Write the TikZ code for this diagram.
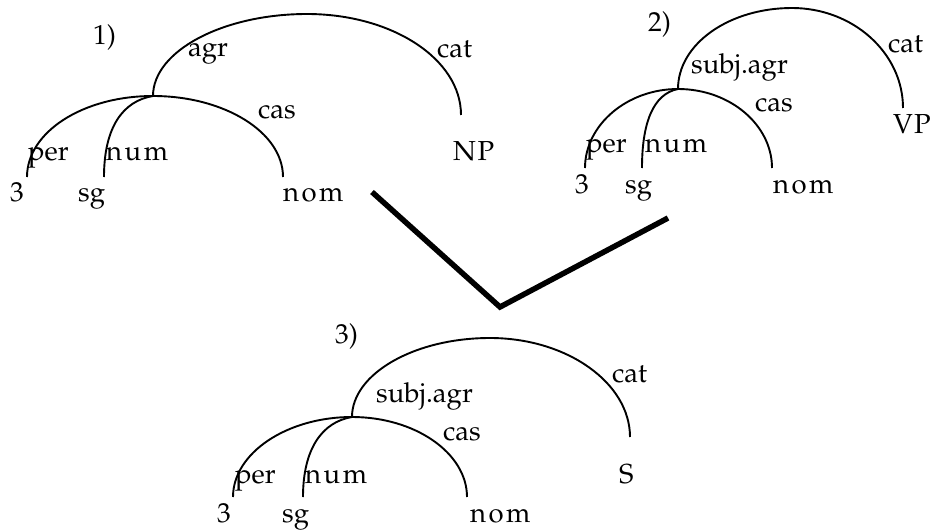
\documentclass[tikz,border=0pt]{standalone}
\usepackage[T1]{fontenc}
\usepackage{mathpazo}
\newcommand\lsp{\kern2.5pt}
\begin{document}
\begin{tikzpicture}[x=1pt,y=-1pt,
  lbl/.style={anchor=base west,inner sep=0pt,font=\fontsize{27.5}{30}\selectfont},
  arc/.style={line width=1.9pt},
  vline/.style={line width=5.5pt}]
\useasboundingbox (0,0) rectangle (931,532);
% ---------- 1) ----------
\coordinate (j1) at (153,96);
\coordinate (t1) at (307,14);
\coordinate (r1) at (461,115);
\coordinate (l1a) at (27,177);
\coordinate (l1b) at (104,177);
\coordinate (l1c) at (283,177);
\draw[arc] (j1) .. controls +(0,-45) and +(-84,0) .. (t1) .. controls +(85,0) and +(0,-56) .. (r1);
\draw[arc] (l1a) .. controls +(0,-45) and +(-70,0) .. (j1) .. controls +(71,0) and +(0,-45) .. (l1c);
\draw[arc] (j1) .. controls +(-30,5) and +(0,-50) .. (l1b);
\node[lbl] (n1) at (93,45) {1)};
\node[lbl] (agr1) at (188,57) {agr};
\node[lbl] (cat1) at (437,58) {cat};
\node[lbl] (cas1) at (258,119) {cas};
\node[lbl] (per1) at (28,160) {per};
\node[lbl] (num1) at (106,160) {n\lsp u\lsp m};
\node[lbl] (np1) at (453,160) {N\kern1.5pt P};
\node[lbl] (th1) at (10,201) {3};
\node[lbl] (sg1) at (78,201) {sg};
\node[lbl] (nom1) at (283,201) {n\lsp o\lsp m};
% ---------- 2) ----------
\coordinate (j2) at (678,89);
\coordinate (t2) at (792,8);
\coordinate (r2) at (903,108);
\coordinate (l2a) at (585,168);
\coordinate (l2b) at (642,168);
\coordinate (l2c) at (772,168);
\draw[arc] (j2) .. controls +(0,-45) and +(-63,0) .. (t2) .. controls +(61,0) and +(0,-55) .. (r2);
\draw[arc] (l2a) .. controls +(0,-43) and +(-51,0) .. (j2) .. controls +(52,0) and +(0,-43) .. (l2c);
\draw[arc] (j2) .. controls +(-25,5) and +(0,-45) .. (l2b);
\node[lbl] (n2) at (648,32) {2)};
\node[lbl] (sa2) at (691,74) {subj.agr};
\node[lbl] (cat2) at (888,53) {cat};
\node[lbl] (cas2) at (755,112) {cas};
\node[lbl] (vp2) at (893,133) {V\kern1pt P};
\node[lbl] (per2) at (586,152) {per};
\node[lbl] (num2) at (645,152) {n\lsp u\lsp m};
\node[lbl] (th2) at (575,193) {3};
\node[lbl] (sg2) at (625,193) {sg};
\node[lbl] (nom2) at (773,193) {n\lsp o\lsp m};
% ---------- 3) ----------
\coordinate (j3) at (352,417);
\coordinate (t3) at (490,338);
\coordinate (r3) at (630,437);
\coordinate (l3a) at (233,497);
\coordinate (l3b) at (303,497);
\coordinate (l3c) at (467,497);
\draw[arc] (j3) .. controls +(0,-43) and +(-76,0) .. (t3) .. controls +(77,0) and +(0,-54) .. (r3);
\draw[arc] (l3a) .. controls +(0,-44) and +(-65,0) .. (j3) .. controls +(63,0) and +(0,-44) .. (l3c);
\draw[arc] (j3) .. controls +(-30,5) and +(0,-48) .. (l3b);
\node[lbl] (n3) at (335,343) {3)};
\node[lbl] (sa3) at (376,402) {subj.agr};
\node[lbl] (cat3) at (612,382) {cat};
\node[lbl] (cas3) at (443,440) {cas};
\node[lbl] (s3) at (619,483) {S};
\node[lbl] (per3) at (235,483) {per};
\node[lbl] (num3) at (305,483) {n\lsp u\lsp m};
\node[lbl] (th3) at (217,522) {3};
\node[lbl] (sg3) at (282,522) {sg};
\node[lbl] (nom3) at (470,522) {n\lsp o\lsp m};
% ---------- unification V ----------
\coordinate (v1) at (372,192);
\coordinate (v2) at (500,307);
\coordinate (v3) at (668,218);
\draw[vline] (v1) -- (v2) -- (v3);
\end{tikzpicture}
\end{document}
